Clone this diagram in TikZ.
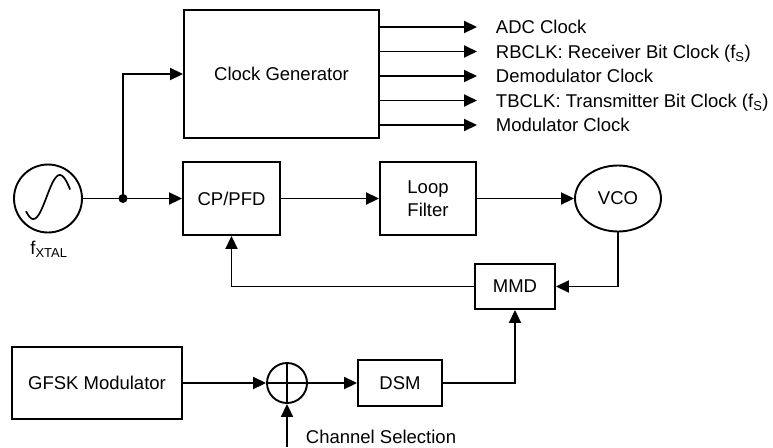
\documentclass[tikz,border=0pt]{standalone}
\usepackage{fontspec}
\setmainfont{Liberation Sans}
\usetikzlibrary{arrows.meta,positioning,calc,shapes.geometric}

\begin{document}
\begin{tikzpicture}[x=1pt,y=-1pt,>={Triangle[length=13pt,width=12pt]},line width=1.9pt,
  font=\fontsize{18.5}{23}\selectfont,
  block/.style={draw,rectangle,inner sep=0pt,align=center},
  lbl/.style={anchor=west,inner sep=0pt,text height=13.2pt,text depth=0pt}]
  \useasboundingbox (0,0) rectangle (773,447);
  % blocks
  \node[block,minimum width=195pt,minimum height=128pt] (clkgen) at (281.5,74) {Clock Generator};
  \node[block,minimum width=97pt,minimum height=73pt] (pfd) at (231.5,198.5) {CP/PFD};
  \node[block,minimum width=96pt,minimum height=73pt] (lpf) at (428,198.5) {Loop\\Filter};
  \node[draw,ellipse,minimum width=86pt,minimum height=66pt,inner sep=0pt] (vco) at (618,198.5) {VCO};
  \node[block,minimum width=80pt,minimum height=45pt] (mmd) at (515,286.5) {MMD};
  \node[block,minimum width=84pt,minimum height=46pt] (dsm) at (400,383) {DSM};
  \node[block,minimum width=170pt,minimum height=72pt] (gfsk) at (97,383) {GFSK Modulator};
  \node[draw,circle,minimum size=40pt,inner sep=0pt] (sum) at (287,383) {};
  \node[draw,circle,minimum size=68pt,inner sep=0pt] (osc) at (48,198.5) {};
  % oscillator
  \draw[line width=1.7pt] plot[domain=-140:160,samples=60,smooth] ({26+(\x+140)*0.147},{197-22*sin(\x)});
  \node (fx) at (49,249) {f\textsubscript{XTAL}};
  % clock outputs
  \foreach \yy/\txt [count=\i] in {27/ADC Clock,51.5/RBCLK: Receiver Bit Clock (f\textsubscript{S}),76/Demodulator Clock,100.5/TBCLK: Transmitter Bit Clock (f\textsubscript{S}),125/Modulator Clock}{
    \node[lbl] (out\i) at (495,\yy) {\txt};
    \draw[->] (clkgen.east |- out\i.west) -- ([xshift=-18pt]out\i.west);
  }
  % PLL loop
  \coordinate (split) at (123,198.5);
  \fill (split) circle (4.5pt);
  \draw (osc) -- (split);
  \draw[->] (split) -- (pfd.west);
  \draw[->] (split) |- (clkgen.west);
  \draw[->] (pfd) -- (lpf);
  \draw[->] (lpf) -- (vco);
  \draw[->] (vco.south) |- (mmd.east);
  \draw[->] (mmd.west) -| (pfd.south);
  % modulation path
  \draw[->] (gfsk) -- (sum);
  \draw[->] (sum) -- (dsm);
  \draw[->] (dsm.east) -| (mmd.south);
  \draw (sum.north) -- (sum.south) (sum.west) -- (sum.east);
  \coordinate (chsel) at (287,447);
  \draw[->] (chsel) -- (sum.south);
  \node[lbl] (chlbl) at (305,437) {Channel Selection};
\end{tikzpicture}
\end{document}
